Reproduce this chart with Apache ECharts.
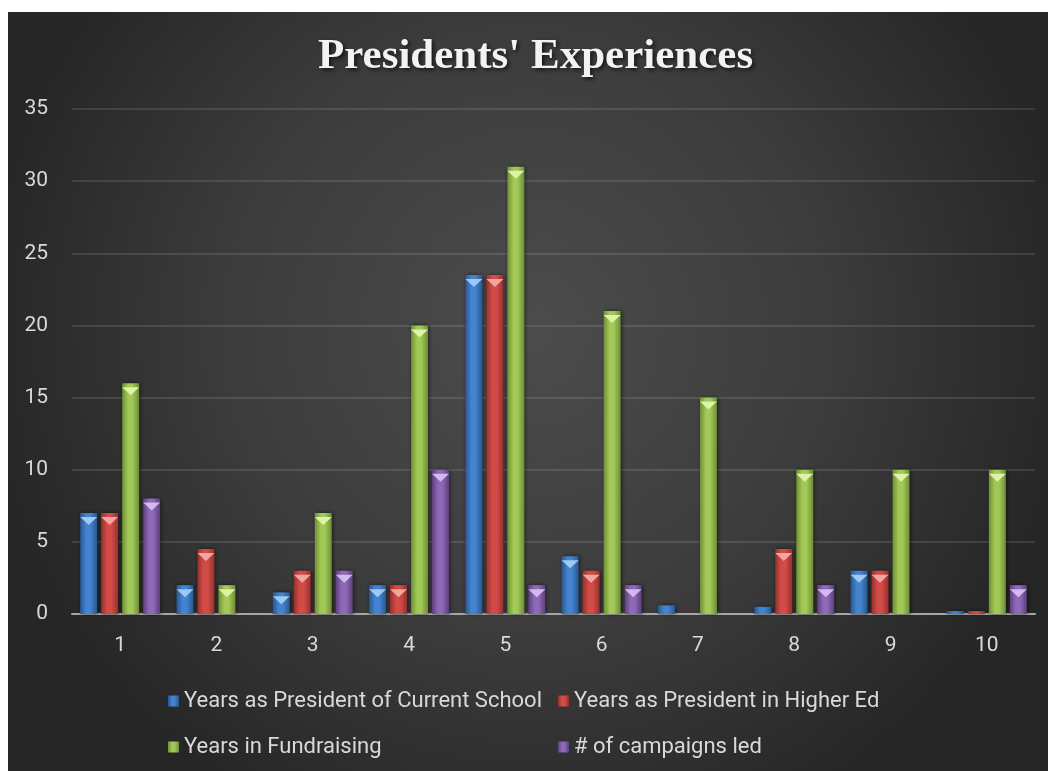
<!DOCTYPE html>
<html>
<head>
<meta charset="utf-8">
<script src="https://cdn.jsdelivr.net/npm/echarts@6/dist/echarts.min.js"></script>
<style>
html,body{margin:0;padding:0;background:#ffffff;}
#chart{width:1048px;height:771px;}
</style>
</head>
<body>
<div id="chart"></div>
<script>
const titleText = "Presidents' Experiences";
const categories = ['1','2','3','4','5','6','7','8','9','10'];
const seriesNames = ['Years as President of Current School','Years as President in Higher Ed','Years in Fundraising','# of campaigns led'];
const currentSchool = [7, 2, 1.5, 2, 23.5, 4, 0.6, 0.5, 3, 0.2];
const higherEd      = [7, 4.5, 3, 2, 23.5, 3, 0, 4.5, 3, 0.2];
const fundraising   = [16, 2, 7, 20, 31, 21, 15, 10, 10, 10];
const campaigns     = [8, 0, 3, 10, 2, 2, 0, 2, 0, 2];
const yTicks = [0, 5, 10, 15, 20, 25, 30, 35];

const palettes = [
  {dark:'#2a5790', mid:'#4383cf', cap:'#a3ccf4'},
  {dark:'#96302c', mid:'#d24c47', cap:'#f5aaa5'},
  {dark:'#6e8e35', mid:'#a2c857', cap:'#e2f5ad'},
  {dark:'#5b4079', mid:'#9068b8', cap:'#d6bff0'}
];
const allData = [currentSchool, higherEd, fundraising, campaigns];

function grad(p){
  return {type:'linear',x:0,y:0,x2:1,y2:0,colorStops:[
    {offset:0,color:p.dark},{offset:0.35,color:p.mid},{offset:0.6,color:p.mid},{offset:1,color:p.dark}]};
}

const BW = 17, GAP = '23.5%';
const series = [];
allData.forEach((d,i)=>{
  series.push({
    name: seriesNames[i], type:'bar', data:d, barWidth:BW, barGap:GAP,
    itemStyle:{color:grad(palettes[i]), shadowColor:'rgba(0,0,0,0.55)', shadowBlur:4, shadowOffsetX:1, shadowOffsetY:0},
    z:3
  });
});
allData.forEach((d,i)=>{
  series.push({
    name: seriesNames[i], type:'pictorialBar', data:d.map(v=> v>=1 ? v : '-'),
    barWidth:BW, barGap:GAP, symbol:'triangle', symbolRotate:180,
    symbolSize:['100%',8], symbolPosition:'end', symbolOffset:[0,'50%'],
    itemStyle:{color:palettes[i].cap, opacity:0.95}, z:4, silent:true,
    legendHoverLink:false
  });
});

const FONT = 'Roboto, "Noto Sans", sans-serif';
const legendText = {color:'#d9d9d9', fontSize:22, fontFamily:FONT, lineHeight:22};
const chart = echarts.init(document.getElementById('chart'), null, {renderer:'canvas'});
chart.setOption({
  animation:false,
  backgroundColor:'#ffffff',
  graphic:[{
    type:'rect', left:8, top:12, z:-100,
    shape:{width:1040, height:759},
    style:{fill:{type:'radial', x:0.5, y:0.42, r:0.72, colorStops:[
      {offset:0,color:'#4c4c4c'},{offset:0.55,color:'#3c3c3c'},{offset:1,color:'#262626'}]}}
  }],
  title:{
    text:titleText, left:313, top:30,
    textStyle:{color:'#f2f2f2', fontSize:43, fontWeight:'bold', fontFamily:'"Liberation Serif", "DejaVu Serif", serif',
      textShadowColor:'rgba(0,0,0,0.7)', textShadowBlur:4, textShadowOffsetX:2, textShadowOffsetY:2}
  },
  grid:{left:72, right:13, top:109, bottom:157, containLabel:false},
  legend:[
    {data:[seriesNames[0], seriesNames[2]], orient:'vertical', left:163, top:685, itemGap:24,
     itemWidth:11, itemHeight:11, icon:'rect', textStyle:legendText},
    {data:[seriesNames[1], seriesNames[3]], orient:'vertical', left:553, top:685, itemGap:24,
     itemWidth:11, itemHeight:11, icon:'rect', textStyle:legendText}
  ],
  xAxis:{
    type:'category', data:categories,
    axisLine:{lineStyle:{color:'#a6a6a6', width:2}},
    axisTick:{show:false},
    axisLabel:{color:'#d9d9d9', fontSize:21, margin:21, fontFamily:FONT}
  },
  yAxis:{
    type:'value', min:0, max:35, interval:5,
    axisLine:{show:false}, axisTick:{show:false},
    splitLine:{lineStyle:{color:'rgba(255,255,255,0.11)', width:2}},
    axisLabel:{color:'#d9d9d9', fontSize:21, margin:24, fontFamily:FONT,
      formatter:v=> yTicks.includes(v) ? String(v) : ''}
  },
  series:series
});
</script>
</body>
</html>
